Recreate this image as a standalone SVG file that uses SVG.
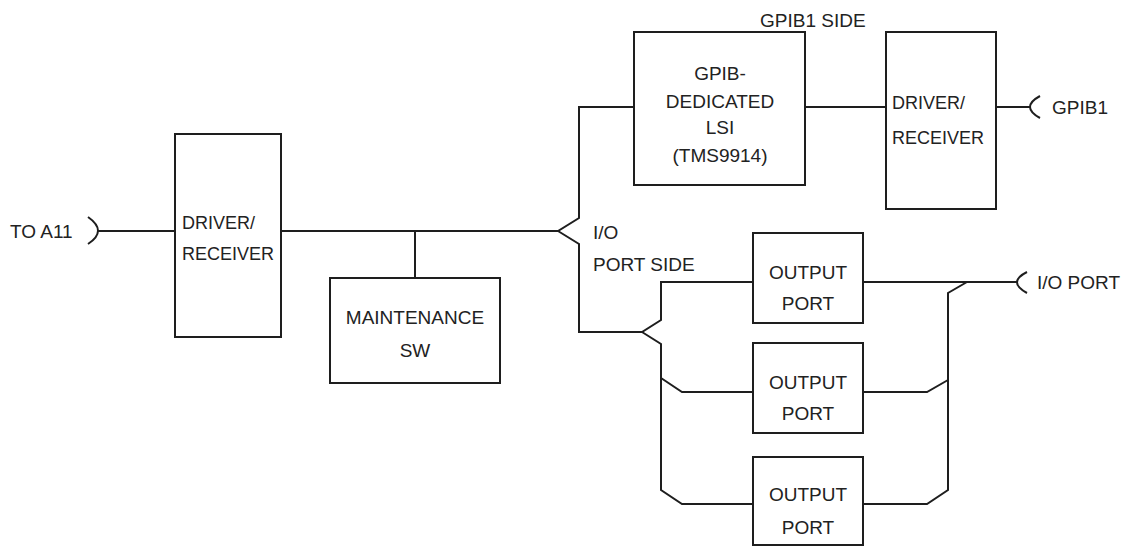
<svg xmlns="http://www.w3.org/2000/svg" width="1121" height="546" viewBox="0 0 1121 546">
<style>
.box{fill:#fff;stroke:#1e1e1e;stroke-width:2}
.ln{fill:none;stroke:#1e1e1e;stroke-width:2;stroke-linejoin:miter}
text{font-family:"Liberation Sans",Arial,sans-serif;font-size:19px;fill:#222}
.c{text-anchor:middle}
.d{font-size:18px}
</style>
<rect width="1121" height="546" fill="#fff"/>
<g id="connectors">
<path class="ln" d="M88 217 Q108 231 88 244"/>
<path class="ln" d="M97 231 H175"/>
<path class="ln" d="M281 231 H558 L579 218 V107 H634"/>
<path class="ln" d="M558 231 L579 244 V332 H642 L661 320 V282 H753"/>
<path class="ln" d="M642 332 L661 344 V490 L682 504 H753"/>
<path class="ln" d="M661 378 L682 392 H753"/>
<path class="ln" d="M415 231 V278"/>
<path class="ln" d="M805 107 H886"/>
<path class="ln" d="M996 107 H1030"/>
<path class="ln" d="M1040 96 Q1020 107 1040 118"/>
<path class="ln" d="M863 282 H1018"/>
<path class="ln" d="M1027 272 Q1007 282 1027 293"/>
<path class="ln" d="M967 282 L948 293 V490 L927 504 H863"/>
<path class="ln" d="M948 380 L927 392 H863"/>
</g>
<g id="label-toa11"><text x="10" y="238">TO A11</text></g>
<g id="driver1">
<rect class="box" x="175" y="134" width="106" height="203"/>
<text class="d" x="182" y="229">DRIVER/</text>
<text class="d" x="182" y="260">RECEIVER</text>
</g>
<g id="maintenance">
<rect class="box" x="330" y="278" width="170" height="105"/>
<text class="c" x="415" y="324">MAINTENANCE</text>
<text class="c" x="415" y="357">SW</text>
</g>
<g id="label-gpib1side"><text x="760" y="27">GPIB1 SIDE</text></g>
<g id="lsi">
<rect class="box" x="634" y="32" width="171" height="153"/>
<text class="c" x="720" y="80">GPIB-</text>
<text class="c" x="720" y="108">DEDICATED</text>
<text class="c" x="720" y="134">LSI</text>
<text class="c" x="720" y="162">(TMS9914)</text>
</g>
<g id="driver2">
<rect class="box" x="886" y="32" width="110" height="177"/>
<text class="d" x="892" y="109">DRIVER/</text>
<text class="d" x="892" y="144">RECEIVER</text>
</g>
<g id="label-gpib1"><text x="1052" y="114">GPIB1</text></g>
<g id="label-ioportside">
<text x="593" y="239">I/O</text>
<text x="593" y="271">PORT SIDE</text>
</g>
<g id="output1">
<rect class="box" x="753" y="233" width="110" height="90"/>
<text class="c" x="808" y="279">OUTPUT</text>
<text class="c" x="808" y="310">PORT</text>
</g>
<g id="output2">
<rect class="box" x="753" y="343" width="110" height="90"/>
<text class="c" x="808" y="389">OUTPUT</text>
<text class="c" x="808" y="420">PORT</text>
</g>
<g id="output3">
<rect class="box" x="753" y="457" width="110" height="88"/>
<text class="c" x="808" y="501">OUTPUT</text>
<text class="c" x="808" y="534">PORT</text>
</g>
<g id="label-ioport"><text x="1037" y="289">I/O PORT</text></g>
</svg>
